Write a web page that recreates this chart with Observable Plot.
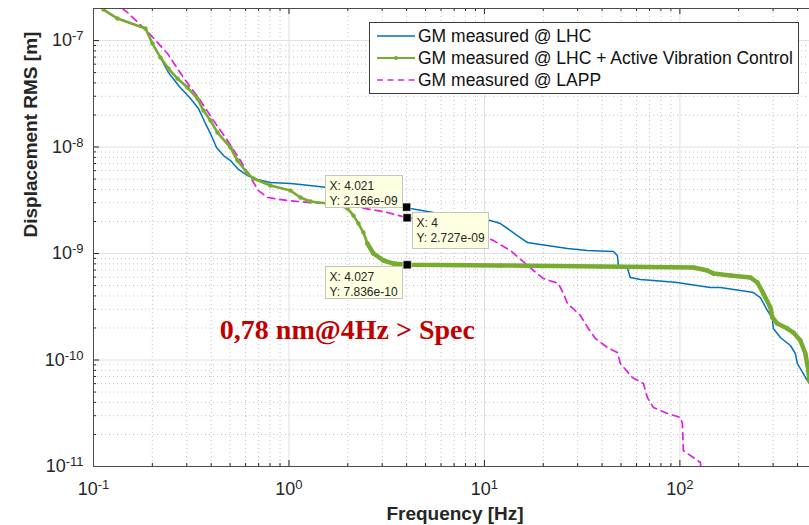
<!DOCTYPE html>
<html><head><meta charset="utf-8">
<script src="https://cdn.jsdelivr.net/npm/d3@7"></script>
<script src="https://cdn.jsdelivr.net/npm/@observablehq/plot@0.6"></script>
<style>
html,body{margin:0;padding:0;background:#fff;overflow:hidden;width:809px;height:525px}
#chart{position:relative;width:809px;height:525px;overflow:hidden}
</style></head><body><div id="chart"></div>
<script>
// ---- series data (frequency [Hz], displacement RMS [m]) ----
const seriesNames = ["GM measured @ LHC", "GM measured @ LHC + Active Vibration Control", "GM measured @ LAPP"];

const lhcFreq = [0.1125, 0.1327, 0.1845, 0.2003, 0.2202, 0.2418, 0.2721, 0.3134, 0.3444, 0.374, 0.3967, 0.4258, 0.4624, 0.5022, 0.5453, 0.6134, 0.69, 0.8042, 1.018, 1.145, 1.574, 2.321, 3.305, 4.0, 4.18, 5.48, 10.73, 12.07, 13.58, 14.75, 16.6, 19.34, 26.6, 33.6, 45.7, 47.9, 48.5, 53.9, 55.8, 62.8, 73.2, 97.1, 104.2, 143.2, 161.1, 204, 237.7, 258.1, 280.3, 297.3, 300.8, 326.8, 367.6, 389.8, 399, 413.5, 449, 459.7];
const lhcDisp = [1.954e-7, 1.609e-7, 1.296e-7, 9.37e-8, 6.92e-8, 5.006e-8, 3.78e-8, 2.853e-8, 2.298e-8, 1.662e-8, 1.339e-8, 9.89e-9, 8.32e-9, 7.47e-9, 6.28e-9, 5.40e-9, 4.95e-9, 4.64e-9, 4.54e-9, 4.45e-9, 4.17e-9, 3.74e-9, 3.15e-9, 2.727e-9, 2.65e-9, 2.43e-9, 2.04e-9, 1.913e-9, 1.644e-9, 1.476e-9, 1.269e-9, 1.215e-9, 1.114e-9, 1.067e-9, 1.044e-9, 9.58e-10, 7.72e-10, 7.23e-10, 5.95e-10, 5.70e-10, 5.58e-10, 5.34e-10, 5.23e-10, 4.80e-10, 4.80e-10, 4.49e-10, 4.30e-10, 3.86e-10, 2.92e-10, 2.45e-10, 1.976e-10, 1.627e-10, 1.369e-10, 1.151e-10, 9.27e-11, 8.32e-11, 6.42e-11, 6.02e-11];

const avcFreq = [0.1125, 0.1327, 0.1845, 0.2003, 0.2202, 0.2418, 0.269, 0.3026, 0.3404, 0.3653, 0.3967, 0.4309, 0.5022, 0.5453, 0.6134, 0.6585, 0.8042, 1.018, 1.145, 1.288, 1.574, 1.834, 1.992, 2.138, 2.268, 2.405, 2.521, 2.705, 3.044, 3.423, 4.027, 12.07, 39.2, 117.2, 138.2, 148.4, 181.3, 229.4, 249.1, 267.4, 290.4, 297.3, 315.3, 354.8, 380.7, 413.5, 438.5, 454.4, 459.7];
const avcDisp = [1.954e-7, 1.609e-7, 1.296e-7, 9.37e-8, 6.92e-8, 5.46e-8, 4.40e-8, 3.62e-8, 2.853e-8, 2.20e-8, 1.774e-8, 1.368e-8, 9.89e-9, 7.47e-9, 5.64e-9, 5.06e-9, 4.35e-9, 3.90e-9, 3.36e-9, 3.08e-9, 2.95e-9, 2.82e-9, 2.65e-9, 2.27e-9, 1.913e-9, 1.575e-9, 1.241e-9, 1.0e-9, 8.60e-10, 8.05e-10, 7.836e-10, 7.72e-10, 7.55e-10, 7.39e-10, 6.93e-10, 6.49e-10, 6.22e-10, 5.95e-10, 5.34e-10, 4.21e-10, 3.11e-10, 2.51e-10, 2.20e-10, 1.976e-10, 1.812e-10, 1.524e-10, 1.151e-10, 7.97e-11, 6.42e-11];

const lappFreq = [0.1407, 0.1493, 0.1911, 0.2391, 0.2886, 0.3526, 0.4111, 0.4847, 0.5647, 0.6355, 0.6982, 0.7763, 0.9825, 1.288, 1.689, 2.321, 3.19, 4.021, 5.955, 8.48, 11.12, 13.58, 17.81, 20.04, 23.9, 25.36, 26.6, 30.98, 34.0, 36.98, 42.6, 47.9, 49.6, 57.1, 65.1, 68.2, 73.2, 86.3, 100.6, 103, 104.2, 109.2, 117.2, 127.3, 128.5];
const lappDisp = [2.0e-7, 1.83e-7, 1.189e-7, 7.55e-8, 4.49e-8, 2.73e-8, 1.774e-8, 1.151e-8, 7.47e-9, 5.17e-9, 3.90e-9, 3.36e-9, 3.15e-9, 3.01e-9, 2.95e-9, 2.70e-9, 2.43e-9, 2.166e-9, 1.954e-9, 1.644e-9, 1.325e-9, 1.067e-9, 6.93e-10, 5.82e-10, 5.23e-10, 4.21e-10, 3.39e-10, 2.62e-10, 1.976e-10, 1.591e-10, 1.310e-10, 1.176e-10, 9.27e-11, 6.85e-11, 6.02e-11, 4.44e-11, 3.58e-11, 3.15e-11, 2.89e-11, 2.53e-11, 1.413e-11, 1.325e-11, 1.215e-11, 1.09e-11, 9.17e-12];

// data tips
const tipFreq = [4.021, 4, 4.027];
const tipDisp = [2.166e-9, 2.727e-9, 7.836e-10];

// annotation
const annotText = ["0,78 nm@4Hz > Spec"];
const annotFreq = [1.99];
const annotDisp = [1.59e-10];

// ticks
const xMajor = [0.1, 1, 10, 100];
const xTickLabels = ["10^-1", "10^0", "10^1", "10^2"];
const xMinor = [0.2,0.3,0.4,0.5,0.6,0.7,0.8,0.9, 2,3,4,5,6,7,8,9, 20,30,40,50,60,70,80,90, 200,300,400,500];
const yMajor = [1e-11, 1e-10, 1e-9, 1e-8, 1e-7];
const yTickLabels = ["10^-11", "10^-10", "10^-9", "10^-8", "10^-7"];
const yMinor = [2e-11,3e-11,4e-11,5e-11,6e-11,7e-11,8e-11,9e-11, 2e-10,3e-10,4e-10,5e-10,6e-10,7e-10,8e-10,9e-10, 2e-9,3e-9,4e-9,5e-9,6e-9,7e-9,8e-9,9e-9, 2e-8,3e-8,4e-8,5e-8,6e-8,7e-8,8e-8,9e-8, 2e-7];
const xLabel = "Frequency [Hz]";
const yLabel = "Displacement RMS [m]";

// ---- build tables ----
const zipS = (fs, vs) => fs.map((f, i) => ({f, v: vs[i]})).filter(d => d.v !== undefined);
const lhc = zipS(lhcFreq, lhcDisp);
const avc = zipS(avcFreq, avcDisp);
const lapp = zipS(lappFreq, lappDisp);
const tips = zipS(tipFreq, tipDisp);
const annot = annotText.map((t, i) => ({t, f: annotFreq[i], v: annotDisp[i]}));

const colors = ["#0072bd", "#77ac30", "#e020e0"];
const W = 830, H = 525, mL = 93, mR = 14, mT = 8, mB = 59;
const pw = W - mL - mR, ph = H - mT - mB;
const axisCol = "#262626";
const fmtTick = (arr, labels) => d => labels[arr.findIndex(a => Math.abs(a - d) / a < 1e-6)] ?? "";

const chart = Plot.plot({
  width: W, height: H,
  marginLeft: mL, marginRight: mR, marginTop: mT, marginBottom: mB,
  x: {type: "log", domain: [0.1, 500]},
  y: {type: "log", domain: [1e-11, 2e-7]},
  style: {fontFamily: "'Liberation Sans', Arial, sans-serif", fontSize: "17px", color: axisCol, background: "white", maxWidth: "none"},
  marks: [
    Plot.ruleX(xMinor, {x: d => d, stroke: "#c4c4c4", strokeDasharray: "1,3"}),
    Plot.ruleY(yMinor, {y: d => d, stroke: "#c4c4c4", strokeDasharray: "1,3"}),
    Plot.ruleX(xMajor, {x: d => d, stroke: "#e0e0e0"}),
    Plot.ruleY(yMajor, {y: d => d, stroke: "#e0e0e0"}),
    Plot.line(lapp, {x: "f", y: "v", stroke: colors[2], strokeWidth: 1.7, strokeDasharray: "7,5", clip: true}),
    Plot.line(lhc, {x: "f", y: "v", stroke: colors[0], strokeWidth: 1.5, clip: true}),
    Plot.line(avc, {x: "f", y: "v", stroke: colors[1], strokeWidth: 2.6, clip: true}),
    Plot.line(avc, {x: "f", y: "v", filter: d => d.f >= 2.5, stroke: colors[1], strokeWidth: 4.5, clip: true}),
    Plot.dot(avc, {x: "f", y: "v", r: 2.2, fill: colors[1], clip: true}),
    // inward ticks
    Plot.ruleX(xMajor, {x: d => d, insetTop: ph - 6, stroke: axisCol}),
    Plot.ruleX(xMajor, {x: d => d, insetBottom: ph - 6, stroke: axisCol}),
    Plot.ruleX(xMinor, {x: d => d, insetTop: ph - 3, stroke: axisCol}),
    Plot.ruleX(xMinor, {x: d => d, insetBottom: ph - 3, stroke: axisCol}),
    Plot.ruleY(yMajor, {y: d => d, insetRight: pw - 6, stroke: axisCol}),
    Plot.ruleY(yMinor, {y: d => d, insetRight: pw - 3, stroke: axisCol}),
    Plot.frame({stroke: "#4a4a4a"}),
    Plot.axisX({ticks: xMajor, tickSize: 0, tickPadding: 16, tickFormat: fmtTick(xMajor, xTickLabels), label: null, fontSize: 18}),
    Plot.axisY({ticks: yMajor, tickSize: 0, tickPadding: 10, tickFormat: fmtTick(yMajor, yTickLabels), label: null, fontSize: 18}),
    Plot.text([xLabel], {text: d => d, frameAnchor: "bottom", dy: 53, lineAnchor: "bottom", fontWeight: "bold", fontSize: 19, fill: axisCol}),
    Plot.text([yLabel], {text: d => d, frameAnchor: "left", dx: -63, rotate: -90, fontWeight: "bold", fontSize: 19, fill: axisCol}),
    Plot.text(annot, {x: "f", y: "v", text: "t", lineAnchor: "bottom", textAnchor: "middle", fontFamily: "'Liberation Serif', 'Times New Roman', serif", fontWeight: "bold", fontSize: 28, fill: "#c00000"}),
    Plot.dot(tips, {x: "f", y: "v", symbol: "square", r: 4.6, fill: "black", stroke: "white", strokeWidth: 0.6})
  ]
});
chart.style.maxWidth = "none";
document.getElementById("chart").appendChild(chart);

// superscript tick labels
chart.querySelectorAll("text").forEach(el => {
  const t = el.textContent;
  if (/^10\^/.test(t) && el.children.length <= 1) {
    const [base, exp] = t.split("^");
    el.textContent = "";
    el.setAttribute("font-size", "18px");
    const ns = "http://www.w3.org/2000/svg";
    const b = document.createElementNS(ns, "tspan"); b.textContent = base; b.setAttribute("font-size", "18px"); el.appendChild(b);
    const s = document.createElementNS(ns, "tspan"); s.textContent = exp;
    s.setAttribute("dy", "-0.45em"); s.setAttribute("font-size", "13px"); el.appendChild(s);
  }
});

const svg = d3.select(chart);
const sx = chart.scale("x"), sy = chart.scale("y");

// data tip boxes (offsets relative to their marker)
const tipLayout = [{dx: -82, dy: -42, w: 77, h: 32}, {dx: 6, dy: 5, w: 76, h: 36}, {dx: -82, dy: 2, w: 77, h: 32}];
const fmtY = v => v.toExponential(3).replace(/e([+-])(\d)$/, "e$10$2");
const gt = svg.append("g").attr("font-family", "'Liberation Sans', Arial, sans-serif").attr("font-size", "12px").attr("text-anchor", "start").attr("fill", axisCol);
tips.forEach((d, i) => {
  const px = sx.apply(d.f), py = sy.apply(d.v), L = tipLayout[i];
  const x0 = Math.round(px + L.dx) + 0.5, y0 = Math.round(py + L.dy) + 0.5;
  gt.append("rect").attr("x", x0).attr("y", y0).attr("width", L.w).attr("height", L.h)
    .attr("fill", "#ffffe1").attr("stroke", "#c4c4c4");
  gt.append("text").attr("x", x0 + 4).attr("y", y0 + 14).attr("text-anchor", "start").text("X: " + d.f);
  gt.append("text").attr("x", x0 + 4).attr("y", y0 + 29).attr("text-anchor", "start").text("Y: " + fmtY(d.v));
});
// keep markers on top of boxes
const dotsG = chart.querySelectorAll('g[aria-label="dot"]');
if (dotsG.length) chart.appendChild(dotsG[dotsG.length - 1]);

// legend
const lg = svg.append("g").attr("font-family", "'Liberation Sans', Arial, sans-serif").attr("font-size", "17.5px").attr("text-anchor", "start");
lg.append("rect").attr("x", 369.5).attr("y", 22.5).attr("width", 429).attr("height", 71).attr("fill", "white").attr("stroke", "#3a3a3a");
seriesNames.forEach((name, i) => {
  const cy = 36 + 22 * i;
  const ln = lg.append("line").attr("x1", 377).attr("x2", 415).attr("y1", cy).attr("y2", cy)
    .attr("stroke", colors[i]).attr("stroke-width", i === 1 ? 2.2 : 1.6);
  if (i === 2) ln.attr("stroke-dasharray", "6,4.5");
  if (i === 1) lg.append("circle").attr("cx", 396).attr("cy", cy).attr("r", 2).attr("fill", colors[1]);
  lg.append("text").attr("x", 418).attr("y", cy).attr("dy", "0.35em").attr("text-anchor", "start").attr("fill", "#111").text(name);
});
</script></body></html>
